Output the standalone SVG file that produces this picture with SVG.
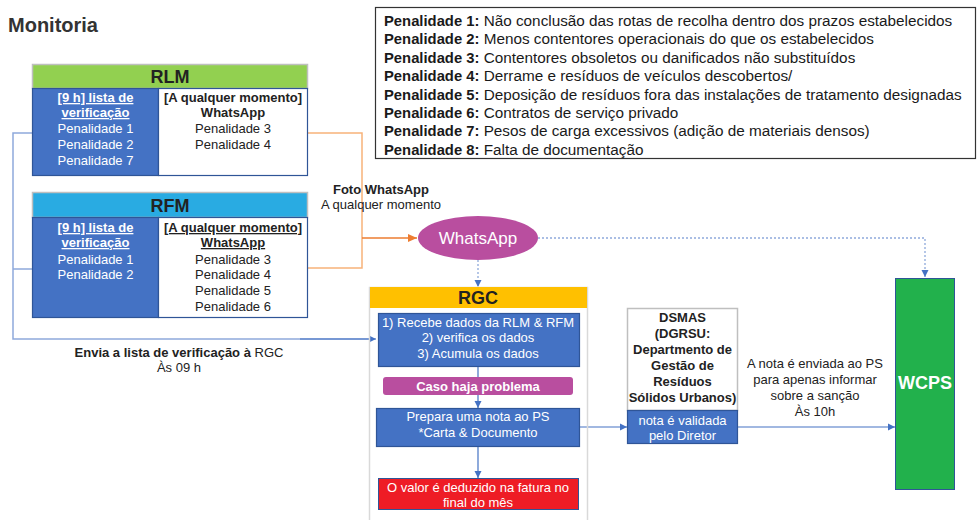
<svg xmlns="http://www.w3.org/2000/svg" width="979" height="520" viewBox="0 0 979 520">
<defs>
<style>
text{font-family:"Liberation Sans",Arial,sans-serif;}
.t{font-size:13px;text-anchor:middle;fill:#222;}
.w{fill:#fff;}
.b{font-weight:bold;}
.u{text-decoration:underline;}
.pen{font-size:15.3px;fill:#1a1a1a;}
.pb{font-weight:bold;font-size:14.8px;}
.blue{fill:#4472C4;stroke:#2F5597;stroke-width:1.2;}
.ln{fill:none;stroke:#4472C4;stroke-width:1.2;}
.lnl{fill:none;stroke:#8EA9DB;stroke-width:1.5;}
.or{fill:none;stroke:#F8B27A;stroke-width:1.5;}
.dot{fill:none;stroke:#8EA9DB;stroke-width:1.3;stroke-dasharray:2 2;}
</style>
<marker id="aB" markerWidth="8" markerHeight="8" refX="7" refY="4" orient="auto" markerUnits="userSpaceOnUse"><path d="M0,0.5 L7,4 L0,7.5 Z" fill="#4472C4"/></marker>
<marker id="aO" markerWidth="10" markerHeight="10" refX="9" refY="5" orient="auto" markerUnits="userSpaceOnUse"><path d="M0,1 L9,5 L0,9 Z" fill="#ED7D31"/></marker>
</defs>
<rect width="979" height="520" fill="#fff"/>
<text x="8" y="32" font-size="20" font-weight="bold" fill="#333">Monitoria</text>

<g id="connectors">
<path class="lnl" d="M32,133 H13 V339 H372"/>
<path class="ln" d="M300,339 H376" marker-end="url(#aB)"/>
<path class="lnl" d="M32,269 H13"/>
<path class="or" d="M307,133 H362 V268 H307"/>
<path fill="none" stroke="#ED7D31" stroke-width="1.3" d="M362,238 H417" marker-end="url(#aO)"/>
<path class="dot" d="M538,238 H925 V277" marker-end="url(#aB)"/>
<path class="dot" d="M478,260 V287" marker-end="url(#aB)"/>
<path class="ln" d="M478,366 V408" marker-end="url(#aB)"/>
<path class="ln" d="M478,447 V478" marker-end="url(#aB)"/>
<path class="ln" d="M580,427 H627" marker-end="url(#aB)"/>
<path class="ln" d="M738,427 H895" marker-end="url(#aB)"/>
</g>

<g id="penalties">
<rect x="375.5" y="7.5" width="600" height="151" fill="#fff" stroke="#333" stroke-width="1.2"/>
<text class="pen" x="384" y="26"><tspan class="pb">Penalidade 1:</tspan> Não conclusão das rotas de recolha dentro dos prazos estabelecidos</text>
<text class="pen" x="384" y="44.4"><tspan class="pb">Penalidade 2:</tspan> Menos contentores operacionais do que os estabelecidos</text>
<text class="pen" x="384" y="62.8"><tspan class="pb">Penalidade 3:</tspan> Contentores obsoletos ou danificados não substituídos</text>
<text class="pen" x="384" y="81.2"><tspan class="pb">Penalidade 4:</tspan> Derrame e resíduos de veículos descobertos/</text>
<text class="pen" x="384" y="99.6"><tspan class="pb">Penalidade 5:</tspan> Deposição de resíduos fora das instalações de tratamento designadas</text>
<text class="pen" x="384" y="118"><tspan class="pb">Penalidade 6:</tspan> Contratos de serviço privado</text>
<text class="pen" x="384" y="136.4"><tspan class="pb">Penalidade 7:</tspan> Pesos de carga excessivos (adição de materiais densos)</text>
<text class="pen" x="384" y="154.8"><tspan class="pb">Penalidade 8:</tspan> Falta de documentação</text>
</g>

<g id="RLM">
<rect x="32.5" y="64.5" width="275" height="24" fill="#92D050" stroke="#BFBFBF" stroke-width="1.5"/>
<text x="170" y="83" font-size="18" font-weight="bold" text-anchor="middle" fill="#222">RLM</text>
<rect class="blue" x="32.5" y="88.5" width="126" height="87"/>
<rect x="158.5" y="88.5" width="149" height="87" fill="#fff" stroke="#2F5597" stroke-width="1.2"/>
<text class="t w b u" x="95.5" y="102">[9 h] lista de</text>
<text class="t w b u" x="95.5" y="117">verificação</text>
<text class="t w" x="95.5" y="133">Penalidade 1</text>
<text class="t w" x="95.5" y="149">Penalidade 2</text>
<text class="t w" x="95.5" y="165">Penalidade 7</text>
<text class="t b" x="233" y="102">[A qualquer momento]</text>
<text class="t b" x="233" y="117">WhatsApp</text>
<text class="t" x="233" y="133">Penalidade 3</text>
<text class="t" x="233" y="149">Penalidade 4</text>
</g>

<g id="RFM">
<rect x="32.5" y="192.5" width="275" height="25" fill="#29ABE2" stroke="#BFBFBF" stroke-width="1.5"/>
<text x="170" y="211.5" font-size="18" font-weight="bold" text-anchor="middle" fill="#222">RFM</text>
<rect class="blue" x="32.5" y="217.5" width="126" height="100"/>
<rect x="158.5" y="217.5" width="149" height="100" fill="#fff" stroke="#2F5597" stroke-width="1.2"/>
<text class="t w b u" x="95.5" y="232">[9 h] lista de</text>
<text class="t w b u" x="95.5" y="247">verificação</text>
<text class="t w" x="95.5" y="263.5">Penalidade 1</text>
<text class="t w" x="95.5" y="279">Penalidade 2</text>
<text class="t b u" x="233" y="232">[A qualquer momento]</text>
<text class="t b u" x="233" y="247">WhatsApp</text>
<text class="t" x="233" y="263.5">Penalidade 3</text>
<text class="t" x="233" y="279">Penalidade 4</text>
<text class="t" x="233" y="294.5">Penalidade 5</text>
<text class="t" x="233" y="310.5">Penalidade 6</text>
</g>

<g id="label-foto">
<text class="t b" x="381" y="194">Foto WhatsApp</text>
<text class="t" x="381" y="209">A qualquer momento</text>
</g>

<g id="label-envia">
<text class="t" x="179" y="357"><tspan class="b">Envia a lista de verificação à</tspan> RGC</text>
<text class="t" x="179" y="372">Às 09 h</text>
</g>

<g id="WhatsApp">
<ellipse cx="478" cy="238" rx="60" ry="22" fill="#B94E9F"/>
<text x="478" y="244" font-size="17" text-anchor="middle" fill="#fff">WhatsApp</text>
</g>

<g id="RGC">
<rect x="369.5" y="287.5" width="218" height="240" fill="none" stroke="#D9D9D9" stroke-width="1.5"/>
<rect x="370" y="287" width="217" height="21" fill="#FFC000"/>
<text x="478" y="304" font-size="18" font-weight="bold" text-anchor="middle" fill="#222">RGC</text>
<rect class="blue" x="378.5" y="313.5" width="201" height="53"/>
<text class="t w" x="478" y="327">1) Recebe dados da RLM &amp; RFM</text>
<text class="t w" x="478" y="342">2) verifica os dados</text>
<text class="t w" x="478" y="358">3) Acumula os dados</text>
<rect x="383" y="377" width="190" height="18" rx="3" fill="#B94E9F"/>
<text class="t w b" x="478" y="390.5">Caso haja problema</text>
<rect class="blue" x="376.5" y="408.5" width="203" height="38"/>
<text class="t w" x="478" y="421">Prepara uma nota ao PS</text>
<text class="t w" x="478" y="437">*Carta &amp; Documento</text>
<rect x="378.5" y="478.5" width="200" height="31" fill="#EE1C25" stroke="#2F5597" stroke-width="1"/>
<text class="t w" x="478" y="492">O valor é deduzido na fatura no</text>
<text class="t w" x="478" y="507">final do mês</text>
</g>

<g id="DSMAS">
<rect x="627.5" y="308.5" width="110" height="102" fill="#fff" stroke="#BFBFBF" stroke-width="1.5"/>
<text class="t b" x="682.5" y="321.5" font-size="12.5">DSMAS</text>
<text class="t b" x="682.5" y="337.5" font-size="12.5">(DGRSU:</text>
<text class="t b" x="682.5" y="353.5" font-size="12.5">Departmento de</text>
<text class="t b" x="682.5" y="369.5" font-size="12.5">Gestão de</text>
<text class="t b" x="682.5" y="385.5" font-size="12.5">Resíduos</text>
<text class="t b" x="682.5" y="401.5" font-size="12.5">Sólidos Urbanos)</text>
<rect class="blue" x="627.5" y="410.5" width="110" height="33"/>
<text class="t w" x="682.5" y="424.5">nota é validada</text>
<text class="t w" x="682.5" y="440">pelo Diretor</text>
</g>

<g id="label-nota">
<text class="t" x="815" y="367.5">A nota é enviada ao PS</text>
<text class="t" x="815" y="383.5">para apenas informar</text>
<text class="t" x="815" y="399.5">sobre a sanção</text>
<text class="t" x="815" y="415.5">Às 10h</text>
</g>

<g id="WCPS">
<rect x="895.5" y="278.5" width="59" height="211" fill="#22B14C" stroke="#2F5597" stroke-width="1"/>
<text x="925" y="389" font-size="18" font-weight="bold" text-anchor="middle" fill="#fff">WCPS</text>
</g>
</svg>
